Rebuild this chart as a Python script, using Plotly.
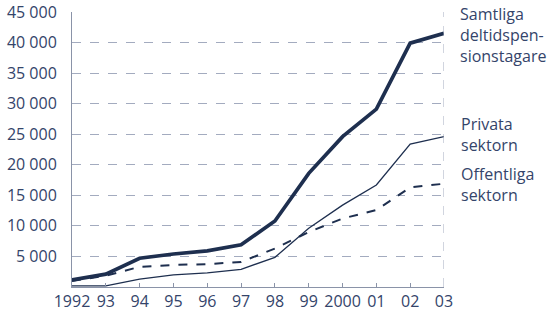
import plotly.graph_objects as go

years = [1992, 1993, 1994, 1995, 1996, 1997, 1998, 1999, 2000, 2001, 2002, 2003]
x_labels = ["1992", "93", "94", "95", "96", "97", "98", "99", "2000", "01", "02", "03"]
samtliga = [1150, 2100, 4700, 5400, 5900, 6900, 10800, 18600, 24600, 29100, 39900, 41500]
privata = [200, 200, 1300, 2000, 2300, 2900, 4850, 9600, 13400, 16700, 23400, 24600]
offentliga = [1000, 1850, 3300, 3600, 3750, 4100, 6300, 9000, 11200, 12600, 16300, 16900]
y_ticks = [5000, 10000, 15000, 20000, 25000, 30000, 35000, 40000, 45000]
y_labels = ["5 000", "10 000", "15 000", "20 000", "25 000", "30 000", "35 000", "40 000", "45 000"]

series_labels = ["Samtliga<br>deltidspen-<br>sionstagare", "Privata<br>sektorn", "Offentliga<br>sektorn"]

navy = "#1e2f4f"
text_col = "#34446a"
grid_col = "#a3abbf"
axis_col = "#8a93a8"

fig = go.Figure()
fig.add_trace(go.Scatter(x=years, y=privata, mode="lines",
                         line=dict(color=navy, width=1.3), name="Privata sektorn"))
fig.add_trace(go.Scatter(x=years, y=offentliga, mode="lines",
                         line=dict(color=navy, width=2, dash="dash"), name="Offentliga sektorn"))
fig.add_trace(go.Scatter(x=years, y=samtliga, mode="lines",
                         line=dict(color=navy, width=3.7), name="Samtliga"))

font = dict(family="Open Sans, Noto Sans, sans-serif", size=16, color=text_col)
ann_font = dict(family="Open Sans, Noto Sans, sans-serif", size=16, color=text_col)

fig.update_layout(
    width=550, height=311,
    margin=dict(l=72, r=106, t=12, b=24),
    paper_bgcolor="white", plot_bgcolor="white",
    showlegend=False,
    font=font,
    xaxis=dict(range=[1992, 2003], tickvals=years, ticktext=x_labels,
               showgrid=False, zeroline=False, automargin=False,
               showline=True, linecolor=axis_col, linewidth=1,
               ticks="inside", ticklen=4, tickcolor=axis_col,
               tickfont=font),
    yaxis=dict(range=[0, 45000], tickvals=y_ticks, ticktext=y_labels,
               showgrid=True, gridcolor=grid_col, griddash="dash", gridwidth=1,
               zeroline=False, showline=True, linecolor=axis_col, linewidth=1,
               automargin=False, ticks="", ticklabelstandoff=11, tickfont=font),
)

fig.add_shape(type="line", xref="x", yref="paper", x0=2003, x1=2003, y0=0, y1=1,
              line=dict(color=grid_col, width=1, dash="dash"))

label_x = [1.037, 1.040, 1.040]
label_y = [0.918, 0.556, 0.372]
for txt, lx, ly in zip(series_labels, label_x, label_y):
    fig.add_annotation(text=txt, xref="paper", yref="paper", x=lx, y=ly,
                       xanchor="left", yanchor="middle", showarrow=False,
                       align="left", font=ann_font)

fig.write_html("out.html", config={"displayModeBar": False},
               post_script="document.body.style.margin='0';document.body.style.padding='0';")
